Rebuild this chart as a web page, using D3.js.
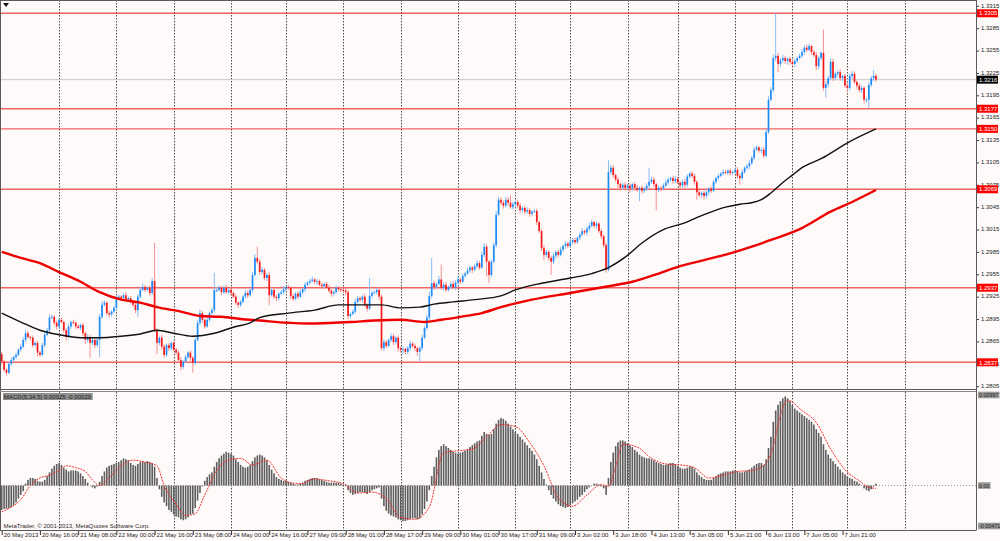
<!DOCTYPE html>
<html>
<head>
<meta charset="utf-8">
<script src="https://cdn.jsdelivr.net/npm/d3@7"></script>
<style>
  html, body { margin: 0; padding: 0; background: #fffafa; }
  #chart svg { display: block; }
  text { font-family: "Liberation Sans", Arial, sans-serif; }
</style>
</head>
<body>
<div id="chart"></div>
<script>
// H1 bars, 20 May - 7 Jun 2013. Prices are pips above 1.2800
const firstOpen = 48;
const closes = [
  38,27,23,35,40,44,47,54,58,67,
  76,71,70,60,63,50,47,60,74,80,
  97,98,90,85,94,91,80,71,85,91,
  90,85,83,87,76,67,71,63,67,60,
  67,98,114,117,103,101,105,110,123,125,
  123,127,121,123,118,114,107,125,134,138,
  134,137,130,146,80,63,70,58,47,60,
  56,63,54,50,40,31,38,44,50,43,
  36,67,90,103,94,85,94,103,107,134,
  134,137,131,137,131,134,130,125,117,114,
  118,125,130,127,134,154,177,172,158,161,
  150,154,127,134,125,123,129,131,135,138,
  137,126,122,129,125,131,135,141,144,146,
  148,145,146,141,139,142,137,133,129,131,
  137,135,134,133,131,99,102,105,118,123,
  121,125,114,109,126,130,131,134,125,56,
  64,59,67,72,64,70,56,54,55,51,
  56,62,59,56,51,56,70,83,97,126,
  143,138,142,148,137,141,134,138,142,137,
  144,148,145,153,156,160,164,161,166,170,
  164,181,192,172,154,172,194,235,255,251,
  247,255,251,245,249,252,247,241,244,239,
  241,236,239,240,225,213,190,181,185,177,
  172,180,185,181,188,193,196,193,198,201,
  198,204,208,213,211,216,220,225,220,223,
  213,206,194,161,292,298,288,282,276,271,
  275,271,274,270,276,271,268,271,267,270,
  274,279,282,276,268,271,270,274,278,282,
  284,280,283,278,274,279,275,286,290,287,
  279,265,261,264,260,265,270,267,279,284,
  287,290,292,291,294,291,292,295,287,284,
  292,298,300,304,311,322,325,321,322,314,
  346,389,402,445,448,437,442,445,441,444,
  440,437,441,445,448,453,459,456,461,453,
  449,434,445,452,405,410,418,440,418,424,
  426,418,421,408,405,421,424,413,408,402,
  405,389,389,409,418,421,416
];
const wickUp = [
  3,2,2,3,4,2,3,2,3,4, 5,3,2,3,2,3,2,3,4,3,
  4,3,2,3,2,3,2,3,4,2, 3,2,3,2,3,2,4,3,2,3,
  2,4,5,3,2,3,2,3,4,3, 2,3,4,2,3,2,3,4,3,5,
  3,2,3,4,51,3,2,4,3,2, 3,2,3,2,3,4,2,3,2,3,
  2,3,4,5,3,2,3,2,3,23, 4,3,2,3,4,2,3,2,3,2,
  3,2,4,3,2,4,5,15,3,4, 2,3,4,3,2,3,2,3,4,2,
  3,2,3,2,3,4,2,3,2,3, 4,2,3,2,3,2,3,4,2,3,
  3,2,3,2,4,3,2,3,4,3, 2,3,4,2,24,3,2,3,4,3,
  4,3,2,4,3,2,3,2,3,2, 3,4,2,3,2,3,4,3,4,6,
  34,4,3,5,20,3,4,2,3,4, 3,4,2,3,2,4,3,2,3,4,
  3,4,5,3,2,3,4,5,4,3, 3,4,3,10,3,2,3,4,2,3,
  4,3,2,3,3,2,3,4,3,2, 3,4,2,3,4,2,3,2,4,3,
  3,2,3,4,2,3,4,3,2,3, 2,3,2,3,16,4,3,2,3,2,
  3,4,2,3,2,3,4,2,3,2, 3,19,4,3,2,3,2,3,4,3,
  2,3,4,3,2,3,4,3,2,3, 3,2,3,2,3,4,2,3,3,2,
  3,2,4,3,2,3,2,3,4,3, 3,2,3,4,3,4,3,2,3,4,
  4,5,4,5,57,4,3,4,3,2, 3,4,3,2,3,4,3,4,3,2,
  3,4,3,2,31,4,3,5,4,3, 3,4,2,3,4,3,4,3,2,3,
  3,2,3,4,3,8,3
];
const wickDown = [
  4,3,4,2,3,2,3,2,3,2, 3,2,4,3,2,5,3,2,3,2,
  3,2,3,4,3,2,3,5,2,3, 2,3,2,3,4,5,3,20,3,4,
  3,23,3,2,3,4,3,2,3,2, 3,4,2,3,2,3,4,9,3,2,
  3,2,4,3,3,15,3,4,4,3, 4,3,2,3,4,5,3,2,3,4,
  13,3,2,3,4,3,2,3,2,3, 3,2,4,3,2,3,4,2,3,4,
  3,2,3,4,2,3,2,3,4,3, 3,4,13,2,3,4,3,2,3,2,
  3,4,3,2,3,2,3,4,2,3, 2,3,4,2,3,3,2,3,4,3,
  2,3,3,2,4,4,3,2,3,2, 3,4,3,4,2,3,2,3,4,3,
  4,3,2,3,4,3,5,4,6,3, 3,4,3,4,5,13,3,2,3,4,
  3,4,3,2,3,4,3,2,3,2, 3,2,3,2,3,2,3,4,2,3,
  3,2,3,20,11,3,2,3,2,3, 4,3,4,2,3,4,3,5,3,4,
  3,4,3,2,4,3,4,7,3,4, 18,3,4,3,2,3,4,3,2,3,
  3,2,3,2,3,4,3,2,3,4, 3,4,3,4,2,3,4,3,5,4,
  3,4,3,5,3,4,3,15,4,3, 3,4,3,4,27,3,4,3,2,3,
  3,4,3,2,4,3,5,3,2,3, 4,10,3,4,5,3,4,3,2,3,
  3,2,3,2,3,4,3,2,4,9, 3,2,3,4,2,3,2,3,4,3,
  2,3,2,3,4,11,4,3,4,5, 4,3,4,3,2,3,4,3,2,4,
  3,5,4,3,4,13,4,3,4,3, 4,3,4,3,5,3,4,3,4,3,
  4,5,4,11,3,4,3
];

// moving averages: [bar, pips]
const maBlack = [
  [0,103],[8,91],[16,80],[24,74],[33,70],[41,70],[50,72],[58,75],[65,80],[72,76],
  [80,72],[89,76],[97,84],[104,90],[108,97],[120,103],[131,107],[141,114],[149,114],
  [159,114],[167,110],[175,111],[181,115],[189,118],[198,121],[209,126],[215,134],
  [226,143],[238,150],[247,156],[254,164],[261,178],[268,197],[277,215],[285,223],
  [294,235],[303,245],[309,249],[314,251],[318,255],[322,264],[327,278],[331,288],
  [335,298],[343,310],[355,333],[366,350]
];
const maRed = [
  [0,185],[8,177],[16,170],[24,158],[33,145],[41,131],[50,121],[58,117],[65,111],
  [75,105],[83,99],[92,98],[100,95],[108,93],[120,90],[128,89],[139,90],[146,91],
  [156,93],[167,94],[177,91],[184,94],[192,98],[201,103],[209,111],[222,121],
  [238,130],[254,139],[264,145],[275,156],[283,165],[294,174],[306,184],[314,192],
  [322,201],[335,217],[347,239],[356,252],[366,268]
];

const levels = [1.3305, 1.3177, 1.3150, 1.3069, 1.2937, 1.2837];
const lastPrice = 1.3216;
const priceTicks = [1.3315,1.3285,1.3255,1.3225,1.3195,1.3165,1.3135,1.3105,1.3075,
  1.3045,1.3015,1.2985,1.2955,1.2925,1.2895,1.2865,1.2835,1.2805];

// MACD(5,34,5) histogram in units of 0.0001
const macdHist = [
  -26,-25,-25,-24,-23,-21,-18,-14,-10,-6, 2,6,8,8,7,5,4,4,6,10,
  14,18,21,23,24,22,19,17,15,16, 16,16,15,13,10,7,3,0,-2,-3,
  -1,4,10,15,19,21,22,23,24,25, 27,29,28,27,24,22,21,23,25,26,
  25,26,25,24,20,8,-4,-12,-18,-22, -26,-28,-31,-33,-34,-36,-37,-36,-34,-31,
  -30,-24,-16,-8,-1,5,9,12,14,20, 25,29,32,34,36,35,34,32,28,25,
  22,20,19,20,22,26,30,32,33,32, 30,27,22,17,13,9,7,6,5,5,
  4,3,2,1,1,2,3,5,6,7, 8,8,8,7,6,5,4,3,3,3,
  3,3,2,1,1,-5,-8,-10,-9,-8, -7,-7,-8,-9,-7,-5,-4,-3,-2,-14,
  -22,-27,-30,-32,-33,-34,-36,-37,-38,-38, -37,-36,-35,-35,-36,-35,-31,-25,-17,-5,
  10,20,30,38,42,44,42,40,38,36, 35,34,35,36,37,39,41,43,45,47,
  48,53,57,55,54,55,60,66,70,72, 71,69,66,63,60,57,55,52,49,46,
  43,40,37,33,28,21,14,7,1,-5, -10,-14,-17,-20,-22,-23,-24,-23,-21,-19,
  -17,-15,-12,-10,-7,-4,-2,0,2,2, 1,-1,-3,-10,8,25,35,42,46,48,
  48,47,45,43,41,38,36,33,31,30, 29,29,28,27,25,24,23,22,22,23,
  24,24,23,21,19,18,18,19,20,20, 18,14,11,9,7,6,6,6,8,10,
  12,13,14,15,15,15,16,16,15,14, 14,15,16,17,19,21,23,24,24,22,
  28,40,52,68,80,86,90,93,95,93, 90,86,82,80,78,76,74,72,70,68,
  65,60,56,52,44,38,33,29,26,23, 20,17,14,12,10,8,7,5,4,2,
  0,-3,-5,-6,-4,-1,2
];
const macdSignal = [
  [0,-28],[4,-23],[8,-15],[12,0],[16,8],[20,11],[24,16],[27,21],[31,19],[35,15],[38,6],
  [41,0],[46,11],[50,21],[55,27],[60,25],[65,21],[68,0],[73,-20],[77,-32],[81,-30],
  [85,-10],[90,16],[95,27],[100,29],[105,22],[111,27],[117,8],[121,3],[125,2],[131,7],
  [137,5],[143,2],[149,-8],[155,-7],[161,-14],[167,-34],[173,-36],[179,-23],[185,35],
  [191,37],[197,39],[203,52],[209,65],[215,63],[221,46],[227,21],[233,-13],[239,-22],
  [245,-10],[251,1],[254,-1],[257,20],[260,44],[266,41],[272,29],[278,23],[284,22],
  [290,19],[296,8],[302,11],[308,15],[314,16],[320,24],[323,42],[326,75],[329,91],
  [335,80],[341,67],[347,39],[353,17],[359,5],[363,-2],[366,-3]
];
const macdScaleLabels = ['0.00997', '0.00', '-0.00471'];
const macdTitle = 'MACD(5,34,5) 0.00025 -0.00029';

const timeLabels = ['20 May 2013','20 May 16:00','21 May 08:00','22 May 00:00','22 May 16:00',
  '23 May 08:00','24 May 00:00','24 May 16:00','27 May 09:00','28 May 01:00','28 May 17:00',
  '29 May 09:00','30 May 01:00','30 May 17:00','31 May 09:00','3 Jun 02:00','3 Jun 18:00',
  '4 Jun 13:00','5 Jun 05:00','5 Jun 21:00','6 Jun 13:00','7 Jun 05:00','7 Jun 21:00'];
const gridBars = [24,48,72,96,119,143,167,191,215,238,262,283,307,331,354,378];

function drawChart(container) {
    const W = 1000, H = 541;
    const plotRight = 976;
    const mainBottom = 389.5, macdTop = 392, macdBottom = 530;
    const pip = p => 1.28 + p / 10000;

    const x = d3.scaleLinear().domain([0, 366]).range([1.7, 876]);
    const y = d3.scaleLinear().domain([1.2800, 1.33228]).range([389.9, 0]);
    const ym = d3.scaleLinear().domain([-0.00471, 0.00997]).range([529.7, 392]);

    const svg = container.append('svg')
        .attr('width', W)
        .attr('height', H);

    svg.append('rect').attr('width', W).attr('height', H).attr('fill', '#fffafa');

    const defs = svg.append('defs');
    defs.append('clipPath').attr('id', 'clipMain')
        .append('rect').attr('x', 0).attr('y', 0).attr('width', plotRight).attr('height', mainBottom);
    defs.append('clipPath').attr('id', 'clipMacd')
        .append('rect').attr('x', 0).attr('y', macdTop).attr('width', plotRight).attr('height', macdBottom - macdTop);

    // vertical dotted grid in both windows
    const grid = svg.append('g');
    [[0, mainBottom], [macdTop, macdBottom]].forEach(([t, b]) => {
        grid.selectAll(null)
            .data(gridBars)
            .enter()
            .append('line')
            .attr('x1', d => Math.round(x(d)) + 0.5)
            .attr('x2', d => Math.round(x(d)) + 0.5)
            .attr('y1', t)
            .attr('y2', b)
            .attr('stroke', '#4a4a4a')
            .attr('stroke-width', 1)
            .attr('stroke-dasharray', '1.5,1.5');
    });

    const main = svg.append('g').attr('clip-path', 'url(#clipMain)');

    // horizontal levels and the bid line
    main.selectAll('line.level')
        .data(levels)
        .enter()
        .append('line')
        .attr('class', 'level')
        .attr('x1', 0).attr('x2', plotRight)
        .attr('y1', d => y(d)).attr('y2', d => y(d))
        .attr('stroke', '#f03c3c')
        .attr('stroke-opacity', 0.8)
        .attr('stroke-width', 1.4);

    main.append('line')
        .attr('x1', 0).attr('x2', plotRight)
        .attr('y1', y(lastPrice)).attr('y2', y(lastPrice))
        .attr('stroke', '#c8c8c8')
        .attr('stroke-width', 1);

    // candles
    const bars = closes.map((c, i) => {
        const o = i === 0 ? firstOpen : closes[i - 1];
        return {
            i, o, c,
            h: Math.max(o, c) + (wickUp[i] || 2),
            l: Math.min(o, c) - (wickDown[i] || 2),
            up: c >= o
        };
    });

    main.selectAll('line.wick')
        .data(bars)
        .enter()
        .append('line')
        .attr('class', 'wick')
        .attr('x1', d => x(d.i)).attr('x2', d => x(d.i))
        .attr('y1', d => y(pip(d.h))).attr('y2', d => y(pip(d.l)))
        .attr('stroke', d => d.up ? '#86bdf7' : '#f79090')
        .attr('stroke-width', 1);

    main.selectAll('rect.body')
        .data(bars)
        .enter()
        .append('rect')
        .attr('class', 'body')
        .attr('x', d => x(d.i) - 0.85)
        .attr('width', 1.7)
        .attr('y', d => y(pip(Math.max(d.o, d.c))))
        .attr('height', d => Math.max(0.9, Math.abs(y(pip(d.o)) - y(pip(d.c)))))
        .attr('fill', d => d.up ? '#1f8bf5' : '#f41a1a');

    // moving averages
    const maLine = d3.line()
        .x(d => x(d[0]))
        .y(d => y(pip(d[1])))
        .curve(d3.curveMonotoneX);

    main.append('path')
        .attr('d', maLine(maRed))
        .attr('fill', 'none')
        .attr('stroke', '#ee0000')
        .attr('stroke-width', 2.4);

    main.append('path')
        .attr('d', maLine(maBlack))
        .attr('fill', 'none')
        .attr('stroke', '#111')
        .attr('stroke-width', 1.4);

    // MACD window
    const macd = svg.append('g').attr('clip-path', 'url(#clipMacd)');

    macd.append('line')
        .attr('x1', 0).attr('x2', plotRight)
        .attr('y1', ym(0)).attr('y2', ym(0))
        .attr('stroke', '#9a9a9a')
        .attr('stroke-dasharray', '1,2');

    macd.selectAll('rect.hist')
        .data(macdHist)
        .enter()
        .append('rect')
        .attr('class', 'hist')
        .attr('x', (d, i) => x(i) - 0.8)
        .attr('width', 1.6)
        .attr('y', d => Math.min(ym(0), ym(d / 10000)))
        .attr('height', d => Math.abs(ym(d / 10000) - ym(0)))
        .attr('fill', '#5e5e5e');

    macd.append('path')
        .attr('d', d3.line()
            .x(d => x(d[0]))
            .y(d => ym(d[1] / 10000))
            .curve(d3.curveMonotoneX)(macdSignal))
        .attr('fill', 'none')
        .attr('stroke', '#f03030')
        .attr('stroke-width', 1)
        .attr('stroke-dasharray', '2,1');

    // frames
    const frame = svg.append('g').attr('stroke', '#5a5a5a').attr('stroke-width', 1).attr('fill', 'none');
    frame.append('line').attr('x1', 0.5).attr('x2', 0.5).attr('y1', 0).attr('y2', macdBottom);
    frame.append('line').attr('x1', 0).attr('x2', plotRight).attr('y1', 0.5).attr('y2', 0.5);
    frame.append('line').attr('x1', plotRight + 0.5).attr('x2', plotRight + 0.5).attr('y1', 0).attr('y2', macdBottom + 0.5);
    frame.append('line').attr('x1', 0).attr('x2', plotRight).attr('y1', mainBottom).attr('y2', mainBottom);
    frame.append('line').attr('x1', 0).attr('x2', plotRight).attr('y1', macdTop - 0.5).attr('y2', macdTop - 0.5).attr('stroke', '#8a8a8a');
    frame.append('line').attr('x1', 0).attr('x2', plotRight).attr('y1', macdBottom + 0.5).attr('y2', macdBottom + 0.5);

    svg.append('path')
        .attr('d', 'M3,3L9,3L6,7Z')
        .attr('fill', '#111');

    // price axis
    const yAxis = svg.append('g')
        .attr('transform', `translate(${plotRight + 1},0)`)
        .call(d3.axisRight(y).tickValues(priceTicks).tickSize(2).tickPadding(2).tickFormat(d3.format('.4f')));
    yAxis.select('.domain').remove();
    yAxis.attr('font-size', 6).attr('font-family', '"Liberation Sans", Arial, sans-serif');
    yAxis.selectAll('line').attr('stroke', '#333');
    yAxis.selectAll('text').attr('fill', '#222').attr('dy', '0.2em');

    // level tags on the price scale
    const tags = levels.map(v => ({ v, bg: '#ff0000' })).concat([{ v: lastPrice, bg: '#000' }]);
    const tag = svg.selectAll('g.tag')
        .data(tags)
        .enter()
        .append('g')
        .attr('class', 'tag')
        .attr('transform', d => `translate(${plotRight + 1},${y(d.v)})`);
    tag.append('rect')
        .attr('x', 0).attr('y', -4)
        .attr('width', 21).attr('height', 8)
        .attr('fill', d => d.bg);
    tag.append('text')
        .attr('x', 2).attr('y', 2.2)
        .attr('font-size', 6)
        .attr('fill', '#fff')
        .text(d => d3.format('.4f')(d.v));

    // MACD scale tags
    const mTags = [
        { t: macdScaleLabels[0], y: 395 },
        { t: macdScaleLabels[1], y: ym(0) },
        { t: macdScaleLabels[2], y: 526 }
    ];
    const mt = svg.selectAll('g.mtag')
        .data(mTags)
        .enter()
        .append('g')
        .attr('class', 'mtag')
        .attr('transform', d => `translate(${plotRight + 2},${d.y})`);
    mt.append('text')
        .attr('x', 1).attr('y', 2)
        .attr('font-size', 5.4)
        .attr('fill', '#1a1a1a')
        .text(d => d.t)
        .each(function () {
            const b = this.getBBox();
            d3.select(this.parentNode).insert('rect', () => this)
                .attr('x', b.x - 1).attr('y', -3.3)
                .attr('width', b.width + 2).attr('height', 6.6)
                .attr('fill', '#9c9c9c');
        });

    // MACD caption
    const capG = svg.append('g');
    const cap = capG.append('text')
        .attr('x', 4).attr('y', 398.5)
        .attr('font-size', 6)
        .attr('fill', '#1a1a1a')
        .text(macdTitle);
    const cb = cap.node().getBBox();
    capG.insert('rect', () => cap.node())
        .attr('x', cb.x - 1).attr('y', 393)
        .attr('width', cb.width + 2).attr('height', 7)
        .attr('fill', '#8e8e8e');

    svg.append('text')
        .attr('x', 3.5).attr('y', 528)
        .attr('font-size', 6)
        .attr('fill', '#2a2a2a')
        .text('MetaTrader, \u00a9 2001-2013, MetaQuotes Software Corp.');

    // time axis
    const xAxis = svg.append('g')
        .attr('transform', `translate(0,${macdBottom + 1})`)
        .call(d3.axisBottom(x)
            .tickValues(d3.range(0, 16 * timeLabels.length, 16))
            .tickSize(4)
            .tickFormat((d, i) => timeLabels[i]));
    xAxis.select('.domain').remove();
    xAxis.attr('font-size', 6).attr('font-family', '"Liberation Sans", Arial, sans-serif');
    xAxis.selectAll('line').attr('stroke', '#333');
    xAxis.selectAll('text')
        .attr('fill', '#222')
        .attr('text-anchor', 'start')
        .attr('x', 1.5)
        .attr('y', 2)
        .attr('dy', '0.71em');
}

drawChart(d3.select('#chart'));
</script>
</body>
</html>
